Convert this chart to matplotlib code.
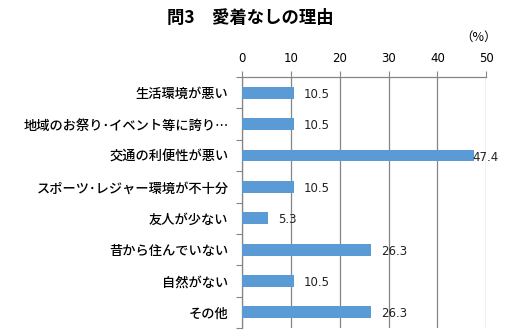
import numpy as np
import matplotlib.pyplot as plt

plt.rcParams['font.family'] = ['Noto Sans CJK JP', 'DejaVu Sans']

# 愛着なしの理由（%）
reasons = ['生活環境が悪い', '地域のお祭り･イベント等に誇り…', '交通の利便性が悪い',
           'スポーツ･レジャー環境が不十分', '友人が少ない', '昔から住んでいない',
           '自然がない', 'その他']
values = [10.5, 10.5, 47.4, 10.5, 5.3, 26.3, 10.5, 26.3]
xticks = [0, 10, 20, 30, 40, 50]

fig = plt.figure(figsize=(5.06, 3.35), dpi=100)
ax = fig.add_axes([0.479, 0.021, 0.482, 0.749])

y = np.arange(len(reasons))
ax.barh(y, values, height=0.38, color='#5B9BD5', zorder=3)

# 値ラベル（右端はグラフ内に収める）
for yi, v in zip(y, values):
    ax.text(min(v + 2.1, 47.2), yi + 0.05, f'{v:.1f}', va='center', ha='left',
            fontsize=8.5, family='DejaVu Sans', color='#222222', zorder=4)

ax.set_xlim(0, 50)
ax.set_ylim(len(reasons) - 0.5, -0.5)
ax.set_xticks(xticks)
ax.xaxis.tick_top()
ax.tick_params(axis='x', length=4, color='#868686', labelsize=8.5, pad=5)
for lab in ax.get_xticklabels():
    lab.set_family('DejaVu Sans')
ax.grid(axis='x', color='#868686', linewidth=0.9, zorder=0)

# カテゴリ境界に目盛り
ax.set_yticks(np.arange(len(reasons) + 1) - 0.5)
ax.set_yticklabels([])
ax.set_yticks(y, minor=True)
ax.set_yticklabels(reasons, minor=True, fontsize=9.5, fontweight='medium')
ax.tick_params(axis='y', which='major', length=4, color='#868686')
ax.tick_params(axis='y', which='minor', length=0, pad=10)

for s in ['right', 'bottom']:
    ax.spines[s].set_visible(False)
for s in ['left', 'top']:
    ax.spines[s].set_color('#868686')
    ax.spines[s].set_linewidth(0.9)

fig.text(0.494, 0.946, '問3　愛着なしの理由', ha='center', va='center',
         fontsize=12.5, fontweight='bold')
fig.text(0.945, 0.888, '（%）', ha='center', va='center', fontsize=9)

fig.savefig('out.png', dpi=100)
